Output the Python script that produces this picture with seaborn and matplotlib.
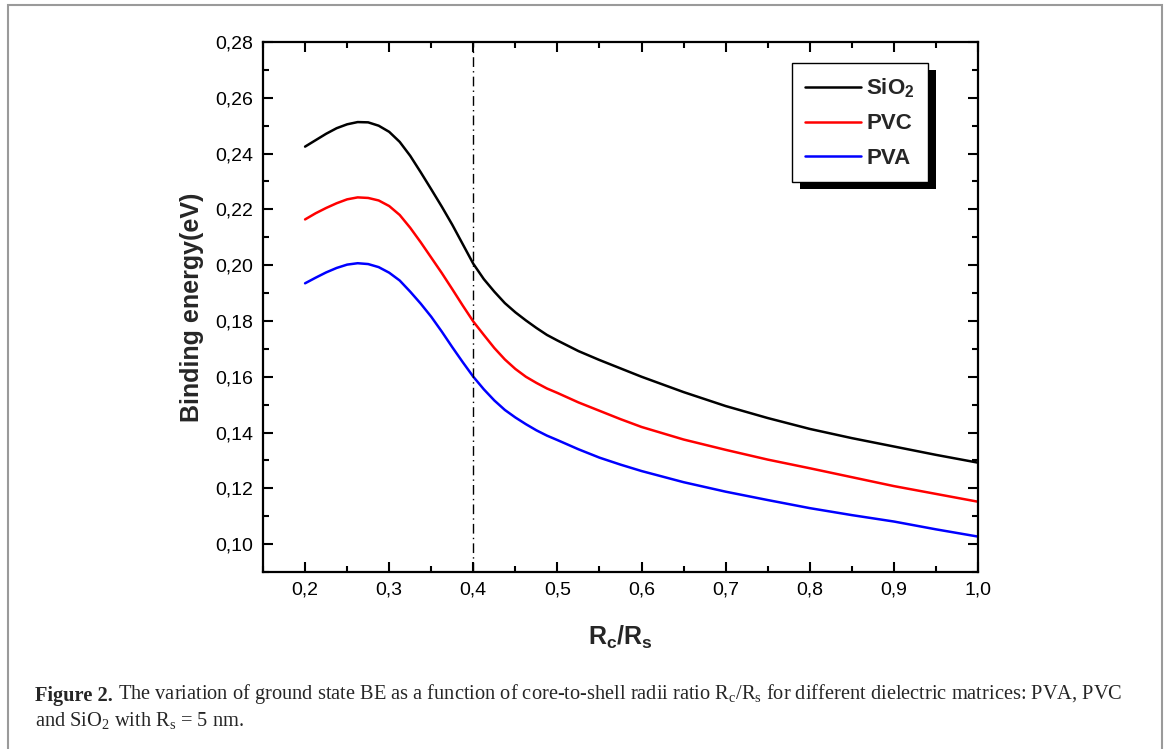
import numpy as np
import pandas as pd
import matplotlib
matplotlib.use("Agg")
import matplotlib.pyplot as plt
import matplotlib.ticker as mticker
from matplotlib.patches import Rectangle
import seaborn as sns

# values
ratio = [0.2, 0.2125, 0.225, 0.2375, 0.25, 0.2625, 0.275, 0.2875, 0.3, 0.3125,
         0.325, 0.3375, 0.35, 0.3625, 0.375, 0.3875, 0.4, 0.4125, 0.425, 0.4375,
         0.45, 0.4625, 0.475, 0.4875, 0.5, 0.525, 0.55, 0.575, 0.6,
         0.65, 0.7, 0.75, 0.8, 0.85, 0.9, 0.95, 1.0]
be_sio2 = [0.2425, 0.2448, 0.2471, 0.2491, 0.2505, 0.2513, 0.2512, 0.2500, 0.2478, 0.2442,
           0.2392, 0.2333, 0.2272, 0.2210, 0.2145, 0.2075, 0.2005, 0.1950, 0.1905, 0.1864,
           0.1831, 0.1802, 0.1775, 0.1750, 0.1730, 0.1692, 0.1660, 0.1630, 0.1600,
           0.1545, 0.1495, 0.1452, 0.1413, 0.1380, 0.1350, 0.1320, 0.1292]
be_pvc = [0.2164, 0.2186, 0.2205, 0.2222, 0.2236, 0.2243, 0.2241, 0.2232, 0.2212, 0.2180,
          0.2134, 0.2082, 0.2027, 0.1972, 0.1914, 0.1855, 0.1798, 0.1750, 0.1703, 0.1662,
          0.1628, 0.1600, 0.1578, 0.1558, 0.1542, 0.1508, 0.1478, 0.1448, 0.1420,
          0.1375, 0.1338, 0.1303, 0.1272, 0.1240, 0.1208, 0.1180, 0.1152]
be_pva = [0.1935, 0.1955, 0.1974, 0.1990, 0.2002, 0.2007, 0.2004, 0.1993, 0.1973, 0.1945,
          0.1905, 0.1862, 0.1815, 0.1762, 0.1706, 0.1652, 0.1600, 0.1555, 0.1515, 0.1481,
          0.1454, 0.1430, 0.1408, 0.1389, 0.1373, 0.1340, 0.1310, 0.1285, 0.1262,
          0.1222, 0.1188, 0.1158, 0.1129, 0.1104, 0.1081, 0.1053, 0.1027]
series_names = [r"$\mathbf{SiO_2}$", "PVC", "PVA"]
series_colors = ["black", "#ff0000", "#0000ff"]
x_ticks = [0.2, 0.3, 0.4, 0.5, 0.6, 0.7, 0.8, 0.9, 1.0]
y_ticks = [0.10, 0.12, 0.14, 0.16, 0.18, 0.20, 0.22, 0.24, 0.26, 0.28]
marker_x = 0.4

df = pd.DataFrame({
    "ratio": ratio * 3,
    "be": be_sio2 + be_pvc + be_pva,
    "matrix": [series_names[0]] * len(ratio) + [series_names[1]] * len(ratio)
              + [series_names[2]] * len(ratio),
})

sns.set_style("ticks")
plt.rcParams["font.family"] = ["Liberation Sans", "DejaVu Sans"]
plt.rcParams["mathtext.fontset"] = "custom"
plt.rcParams["mathtext.rm"] = "Liberation Serif"
plt.rcParams["mathtext.bf"] = "Liberation Sans:bold"

fig = plt.figure(figsize=(11.7, 7.49), dpi=100)
ax = fig.add_axes([0.2248, 0.2363, 0.8359 - 0.2248, 0.9439 - 0.2363])

sns.lineplot(data=df, x="ratio", y="be", hue="matrix", palette=series_colors,
             linewidth=1.8, ax=ax, legend=False)
ax.axvline(marker_x, color="black", lw=1.0, linestyle=(0, (7, 3, 1, 3)))

ax.set_xlim(0.15, 1.0)
ax.set_ylim(0.09, 0.28)
ax.set_xticks(x_ticks)
ax.set_yticks(y_ticks)
ax.xaxis.set_minor_locator(mticker.MultipleLocator(0.05))
ax.yaxis.set_minor_locator(mticker.MultipleLocator(0.01))
ax.set_xticklabels([f"{v:.1f}".replace(".", ",") for v in x_ticks])
ax.set_yticklabels([f"{v:.2f}".replace(".", ",") for v in y_ticks])
ax.tick_params(which="both", direction="in", top=True, right=True, width=1.5,
               labelsize=14, pad=7, colors="black")
ax.tick_params(which="major", length=7)
ax.tick_params(which="minor", length=4.5)
for sp in ax.spines.values():
    sp.set_visible(True)
    sp.set_linewidth(1.6)
    sp.set_color("black")

ax.set_xlabel(r"$\mathbf{R_c/R_s}$", fontsize=18, labelpad=18)
ax.set_ylabel("Binding energy(eV)", fontsize=18, fontweight="bold", labelpad=8)

handles = [plt.Line2D([], [], color=c, lw=1.8) for c in series_colors]
leg = ax.legend(handles, series_names, loc="upper left",
                bbox_to_anchor=((792 - 263) / 715, 1 - (63 - 42) / 530),
                frameon=True, fancybox=False, edgecolor="black", framealpha=1,
                prop={"weight": "bold", "size": 16}, handlelength=2.5,
                handletextpad=0.25, labelspacing=0.6, borderpad=0.6,
                borderaxespad=0)
leg.get_frame().set_linewidth(1.0)
leg.set_zorder(6)

# black drop shadow behind the legend box
fig.canvas.draw()
bb = leg.get_window_extent().transformed(ax.transAxes.inverted())
dx = 8 / 715
dy = 7 / 530
ax.add_patch(Rectangle((bb.x0 + dx, bb.y0 - dy), bb.width, bb.height,
                       transform=ax.transAxes, facecolor="black", edgecolor="none",
                       zorder=5, clip_on=False))

# outer frame
fig.patches.append(Rectangle((8 / 1170, -0.01), (1162 - 8) / 1170, 1 - 5 / 749 + 0.01,
                             transform=fig.transFigure, fill=False,
                             edgecolor="#9a9a9a", lw=1.5, figure=fig))

# caption
cap_font = {"family": ["Liberation Serif", "DejaVu Serif"], "size": 14.7}
t1 = fig.text(35 / 1170, 1 - 701 / 749, "Figure 2.", fontdict=cap_font,
              fontweight="bold", va="baseline")
ax.annotate(r"The variation of ground state BE as a function of core-to-shell radii ratio "
            r"$\mathrm{R_c/R_s}$ for different dielectric matrices: PVA, PVC",
            xy=(1, 0), xycoords=t1, xytext=(4, 0), textcoords="offset points",
            va="bottom", annotation_clip=False, **cap_font)
fig.text(35 / 1170, 1 - 726 / 749, r"and Si$\mathrm{O_2}$ with $\mathrm{R_s}$ = 5 nm.",
         fontdict=cap_font, va="baseline")

fig.savefig("out.png", dpi=100)
